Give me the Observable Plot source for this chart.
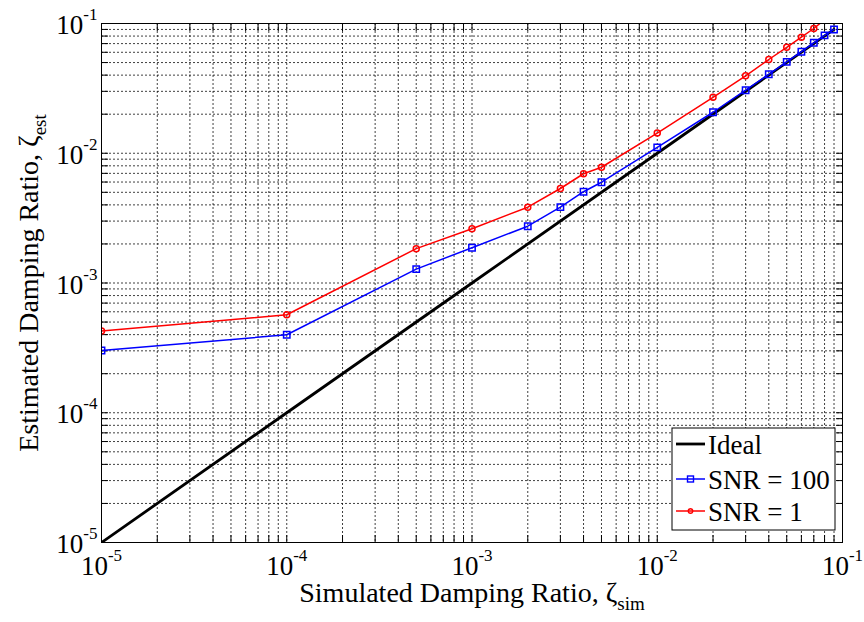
<!DOCTYPE html>
<html><head><meta charset="utf-8">
<script src="https://cdn.jsdelivr.net/npm/d3@7"></script>
<script src="https://cdn.jsdelivr.net/npm/@observablehq/plot@0.6"></script>
<style>
body{margin:0;background:#fff}
#chart svg{font-family:"Liberation Serif","Times New Roman",serif;background:#fff}
</style>
</head><body><div id="chart"></div>
<script>
// ---- data ----
const zetaSim = [1e-5,1e-4,5e-4,1e-3,2e-3,3e-3,4e-3,5e-3,1e-2,2e-2,3e-2,4e-2,5e-2,6e-2,7e-2,8e-2,9e-2];
const estSNR100 = [3.02e-4,3.99e-4,1.28e-3,1.87e-3,2.74e-3,3.84e-3,5.05e-3,5.98e-3,1.11e-2,2.07e-2,3.06e-2,4.06e-2,5.06e-2,6.06e-2,7.1e-2,8.1e-2,9.0e-2];
const estSNR1 = [4.26e-4,5.69e-4,1.84e-3,2.62e-3,3.84e-3,5.35e-3,6.95e-3,7.80e-3,1.43e-2,2.70e-2,3.95e-2,5.28e-2,6.56e-2,7.84e-2,9.15e-2,1.07e-1,1.2e-1];
const idealSim = [1e-5,1e-4,1e-3,1e-2,9e-2];
const idealEst = [1e-5,1e-4,1e-3,1e-2,9e-2];
const majorTicks = [1e-5,1e-4,1e-3,1e-2,1e-1];
const tickLabels = ["10^-5","10^-4","10^-3","10^-2","10^-1"];
const minorMultipliers = [1,2,3,4,5,6,7,8,9];
const seriesNames = ["Ideal","SNR = 100","SNR = 1"];
const seriesColors = ["#000000","#0000ff","#ff0000"];
const xTitle = "Simulated Damping Ratio, ζ_sim";
const yTitle = "Estimated Damping Ratio, ζ_est";

const gridTicks = majorTicks.slice(0,-1).flatMap(d => minorMultipliers.map(k => k*d)).concat([majorTicks[majorTicks.length-1]]);
const fmt = d => tickLabels[majorTicks.findIndex(t => Math.abs(Math.log10(t) - Math.log10(d)) < 1e-6)];

const s100 = zetaSim.map((x,i) => ({x, y: estSNR100[i]}));
const s1 = zetaSim.map((x,i) => ({x, y: estSNR1[i]}));
const ideal = idealSim.map((x,i) => ({x, y: idealEst[i]}));

const gridStyle = {stroke:"#000", strokeOpacity:0.75, strokeDasharray:"2,2", strokeWidth:1};
const blank = () => "";

const svg = Plot.plot({
  width: 864, height: 622,
  marginLeft: 101, marginRight: 22, marginTop: 23, marginBottom: 80,
  style: {fontFamily: '"Liberation Serif","Times New Roman",serif', background: "#fff"},
  x: {type: "log", domain: [1e-5, 1e-1], label: null},
  y: {type: "log", domain: [1e-5, 1e-1], label: null},
  marks: [
    Plot.gridX(gridTicks, gridStyle),
    Plot.gridY(gridTicks, gridStyle),
    Plot.axisX(gridTicks, {anchor:"bottom", tickSize:7, dy:-7, tickFormat:blank, label:null}),
    Plot.axisX(gridTicks, {anchor:"top", tickSize:7, dy:7, tickFormat:blank, label:null}),
    Plot.axisY(gridTicks, {anchor:"left", tickSize:7, dx:7, tickFormat:blank, label:null}),
    Plot.axisY(gridTicks, {anchor:"right", tickSize:7, dx:-7, tickFormat:blank, label:null}),
    Plot.axisX(majorTicks, {anchor:"bottom", tickSize:0, tickPadding:13, tickFormat:fmt, label:null, fontSize:27, fill:"#000"}),
    Plot.axisY(majorTicks, {anchor:"left", tickSize:0, tickPadding:4, tickFormat:fmt, label:null, fontSize:27, dy:2, fill:"#000"}),
    Plot.line(ideal, {x:"x", y:"y", stroke:seriesColors[0], strokeWidth:2.8, clip:true}),
    Plot.line(s100, {x:"x", y:"y", stroke:seriesColors[1], strokeWidth:1.5, clip:true}),
    Plot.dot(s100, {x:"x", y:"y", stroke:seriesColors[1], symbol:"square", r:3.6, strokeWidth:1.5, fill:"none", clip:true}),
    Plot.line(s1, {x:"x", y:"y", stroke:seriesColors[2], strokeWidth:1.5, clip:true}),
    Plot.dot(s1, {x:"x", y:"y", stroke:seriesColors[2], symbol:"circle", r:3, strokeWidth:1.5, fill:"none", clip:true}),
    Plot.frame({stroke:"#000", strokeWidth:1}),
    Plot.text([xTitle], {frameAnchor:"bottom", dy:59, fontSize:28, fill:"#000", textAnchor:"middle"}),
    Plot.text([yTitle], {frameAnchor:"left", dx:-72, rotate:-90, fontSize:28, fill:"#000", textAnchor:"middle"})
  ]
});

const ns = "http://www.w3.org/2000/svg";
// superscripts / subscripts
svg.querySelectorAll("text").forEach(t => {
  const s = t.textContent;
  if (s.includes("^")) {
    const [base, exp] = s.split("^");
    t.textContent = "";
    const a = document.createElementNS(ns, "tspan"); a.textContent = base; t.appendChild(a);
    const b = document.createElementNS(ns, "tspan"); b.textContent = exp;
    b.setAttribute("dy", "-14"); b.setAttribute("font-size", "17"); t.appendChild(b);
  } else if (s.includes("_")) {
    const [base, sub] = s.split("_");
    t.textContent = "";
    const a = document.createElementNS(ns, "tspan"); a.textContent = base; t.appendChild(a);
    const b = document.createElementNS(ns, "tspan"); b.textContent = sub;
    b.setAttribute("dy", "8"); b.setAttribute("font-size", "19"); t.appendChild(b);
  }
});

// legend box
const lg = d3.select(svg).append("g").attr("font-family", '"Liberation Serif","Times New Roman",serif').attr("text-anchor", "start");
lg.append("rect").attr("x", 672).attr("y", 428).attr("width", 163).attr("height", 102)
  .attr("fill", "#fff").attr("stroke", "#000").attr("stroke-width", 1);
const rowsY = [444, 479, 511];
seriesNames.forEach((name, i) => {
  const y = rowsY[i];
  lg.append("line").attr("x1", 676).attr("x2", 705).attr("y1", y).attr("y2", y)
    .attr("stroke", seriesColors[i]).attr("stroke-width", i === 0 ? 2.8 : 1.5);
  if (i === 1) lg.append("rect").attr("x", 687.5).attr("y", y-3).attr("width", 6).attr("height", 6)
    .attr("fill", "none").attr("stroke", seriesColors[i]).attr("stroke-width", 1.4);
  if (i === 2) lg.append("circle").attr("cx", 690.5).attr("cy", y).attr("r", 2.2)
    .attr("fill", "none").attr("stroke", seriesColors[i]).attr("stroke-width", 1.4);
  lg.append("text").attr("x", 708).attr("y", y + 10).attr("font-size", 27).attr("fill", "#000")
    .attr("text-anchor", "start").text(name);
});

document.getElementById("chart").appendChild(svg);
</script>
</body></html>
